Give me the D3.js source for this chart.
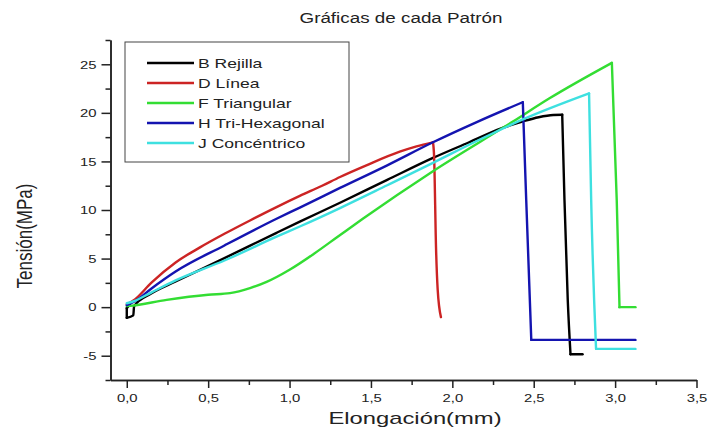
<!DOCTYPE html>
<html>
<head>
<meta charset="utf-8">
<script src="https://cdn.jsdelivr.net/npm/d3@7"></script>
<style>
  body { margin: 0; background: #fff; }
  text { font-family: "Liberation Sans", Arial, sans-serif; fill: #222; }
</style>
</head>
<body>
<div id="app"></div>
<script>
// Data: [elongation mm, stress MPa]
let rejilla = [[0.02,0.3],[0.0,-0.1],[0.0,-1.1],[0.04,-0.85],[0.045,0.1],[0.15,1.4],[0.3,2.64],[0.6,5.05],[0.92,7.65],[1.063,8.8],[1.31,10.75],[1.6,13.1],[1.881,15.36],[2.1,16.95],[2.3,18.4],[2.43,19.1],[2.53,19.55],[2.62,19.78],[2.675,19.8],[2.689,11],[2.709,0.75],[2.726,-4.85],[2.8,-4.85]]
let linea = [[0.0,0.3],[0.05,0.8],[0.15,2.5],[0.3,4.6],[0.45,6.15],[0.6,7.55],[0.76,8.95],[0.92,10.3],[1.063,11.45],[1.2,12.5],[1.31,13.4],[1.472,14.6],[1.677,16.0],[1.78,16.55],[1.881,16.97],[1.888,15.5],[1.9,6],[1.91,1.8],[1.93,-1.03]]
let triangular = [[0.0,0.1],[0.02,0.13],[0.245,0.75],[0.5,1.27],[0.634,1.44],[0.757,1.96],[0.859,2.6],[1.0,3.85],[1.15,5.5],[1.3,7.3],[1.45,9.1],[1.881,14.0],[2.372,19.1],[2.597,21.5],[2.98,25.15],[3.01,11],[3.027,0],[3.125,0]]
let triHex = [[0.0,0.2],[0.05,0.6],[0.15,1.9],[0.3,3.67],[0.6,6.35],[0.92,9.1],[1.063,10.25],[1.31,12.27],[1.6,14.6],[1.881,16.97],[2.15,19.05],[2.433,21.1],[2.454,11],[2.485,-3.37],[3.125,-3.37]]
let concentrico = [[0.0,0.4],[0.05,0.65],[0.15,1.5],[0.3,2.75],[0.6,4.8],[0.92,7.25],[1.063,8.3],[1.31,10.2],[1.6,12.55],[1.881,14.85],[2.15,17.1],[2.43,19.3],[2.84,22.0],[2.853,11],[2.883,-4.3],[3.125,-4.3]]

let seriesNames = ["B Rejilla", "D Línea", "F Triangular", "H Tri-Hexagonal", "J Concéntrico"]
let seriesColors = ["#000000", "#cc2424", "#33dd33", "#1414b0", "#3ee0e0"]
let seriesData = [rejilla, linea, triangular, triHex, concentrico]

let xMajor = [0, 0.5, 1, 1.5, 2, 2.5, 3, 3.5]
let xMinor = [0.25, 0.75, 1.25, 1.75, 2.25, 2.75, 3.25]
let yMajor = [-5, 0, 5, 10, 15, 20, 25]
let yMinor = [-7.5, -2.5, 2.5, 7.5, 12.5, 17.5, 22.5, 27.5]

let width = 708
let height = 432
let stretch = 1.35   // the original picture is wider than its fonts

let svg = d3.select("#app").append("svg")
    .attr("width", width)
    .attr("height", height)

let x = d3.scaleLinear().domain([-0.1, 3.5]).range([110.5, 696.5])
let y = d3.scaleLinear().domain([-7.5, 27.5]).range([380, 40])

// axes
let xAxis = svg.append("g").attr("transform", "translate(0,380)")
    .call(d3.axisBottom(x).tickValues(xMajor).tickSize(8).tickSizeOuter(0).tickFormat(d => d3.format(".1f")(d).replace(".", ",")))
let xAxisMinor = svg.append("g").attr("transform", "translate(0,380)")
    .call(d3.axisBottom(x).tickValues(xMinor).tickSize(5).tickSizeOuter(0).tickFormat(""))
let yAxis = svg.append("g").attr("transform", "translate(110.5,0)")
    .call(d3.axisLeft(y).tickValues(yMajor).tickSize(9).tickSizeOuter(0).tickFormat(d => String(d)))
let yAxisMinor = svg.append("g").attr("transform", "translate(110.5,0)")
    .call(d3.axisLeft(y).tickValues(yMinor).tickSize(5).tickSizeOuter(0).tickFormat(""))

svg.selectAll(".domain, .tick line").attr("stroke", "#222").attr("stroke-width", 1.5)

xAxis.selectAll("text")
    .attr("y", null).attr("dy", null)
    .attr("transform", "translate(0,22) scale(" + stretch + ",1)")
    .style("font-size", "11px").attr("fill", "#333")
yAxis.selectAll("text")
    .attr("x", null).attr("dy", ".35em")
    .attr("transform", "translate(-14,0) scale(" + stretch + ",1)")
    .style("font-size", "11px").attr("fill", "#333")

// curves: smooth inside each rising / falling run, sharp corners between runs
let smooth = d3.line().x(d => x(d[0])).y(d => y(d[1])).curve(d3.curveMonotoneX)

function runs(data) {
    let out = [], cur = [data[0]], dir = null
    for (let i = 1; i < data.length; i++) {
        let a = data[i - 1], b = data[i]
        let d = b[0] <= a[0] ? "back" : Math.sign(b[1] - a[1])
        if (dir !== null && (d !== dir || d === "back")) {
            out.push(cur)
            cur = [a]
        }
        cur.push(b)
        dir = d
    }
    out.push(cur)
    return out
}

let series = svg.append("g").selectAll("g")
    .data(seriesData)
    .enter().append("g")
    .attr("stroke", (d, i) => seriesColors[i])

series.selectAll("path")
    .data(d => runs(d))
    .enter().append("path")
    .attr("d", smooth)
    .attr("fill", "none")
    .attr("stroke-width", 2.4)
    .attr("stroke-linejoin", "round")
    .attr("stroke-linecap", "round")

// legend
let legend = svg.append("g")
legend.append("rect")
    .attr("x", 125).attr("y", 42).attr("width", 224).attr("height", 120)
    .attr("fill", "#fff").attr("stroke", "#444").attr("stroke-width", 1)

let item = legend.selectAll(".item")
    .data(seriesNames)
    .enter().append("g")
    .attr("class", "item")
    .attr("transform", (d, i) => "translate(0," + (63 + i * 20) + ")")

item.append("line")
    .attr("x1", 147).attr("x2", 194)
    .attr("stroke", (d, i) => seriesColors[i])
    .attr("stroke-width", 2.4)

item.append("text")
    .attr("dy", ".36em")
    .attr("transform", "translate(198,0) scale(" + stretch + ",1)")
    .style("font-size", "13px")
    .text(d => d)

// titles
svg.append("text")
    .attr("text-anchor", "middle")
    .attr("transform", "translate(401,23) scale(" + 1.3 + ",1)")
    .style("font-size", "14.5px")
    .text("Gráficas de cada Patrón")

svg.append("text")
    .attr("text-anchor", "middle")
    .attr("transform", "translate(415,424) scale(" + 1.4 + ",1)")
    .style("font-size", "17px")
    .text("Elongación(mm)")

svg.append("text")
    .attr("text-anchor", "middle")
    .attr("transform", "translate(32,236) scale(" + 1.3 + ",1) rotate(-90)")
    .style("font-size", "17px")
    .text("Tensión(MPa)")
</script>
</body>
</html>
